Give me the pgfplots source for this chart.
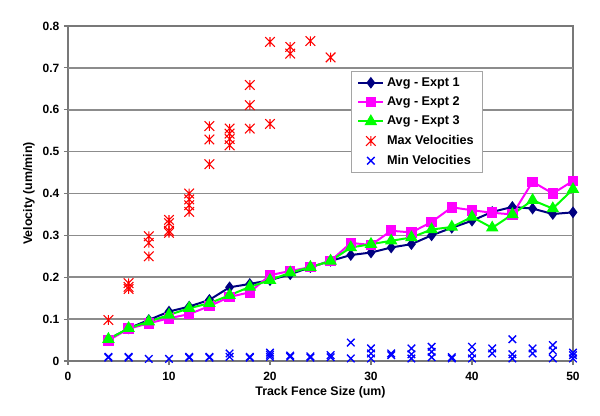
\documentclass[border=0pt]{standalone}
\usepackage{pgfplots}
\pgfplotsset{compat=1.18}
\usepackage{fontspec}
\setmainfont{Liberation Sans}
\definecolor{navyc}{RGB}{0,0,128}
\definecolor{magc}{RGB}{255,0,255}
\definecolor{greenc}{RGB}{0,255,0}
\definecolor{redc}{RGB}{255,0,0}
\definecolor{bluec}{RGB}{0,0,255}
\definecolor{gridc}{RGB}{140,140,140}
\definecolor{legc}{RGB}{165,165,165}
\definecolor{axc}{RGB}{120,120,120}
\pgfdeclareplotmark{xast}{%
 \pgfpathmoveto{\pgfqpoint{-\pgfplotmarksize}{-\pgfplotmarksize}}%
 \pgfpathlineto{\pgfqpoint{\pgfplotmarksize}{\pgfplotmarksize}}%
 \pgfpathmoveto{\pgfqpoint{-\pgfplotmarksize}{\pgfplotmarksize}}%
 \pgfpathlineto{\pgfqpoint{\pgfplotmarksize}{-\pgfplotmarksize}}%
 \pgfpathmoveto{\pgfqpoint{0pt}{-\pgfplotmarksize}}%
 \pgfpathlineto{\pgfqpoint{0pt}{\pgfplotmarksize}}%
 \pgfusepathqstroke}
\begin{document}
\begin{tikzpicture}
\path[use as bounding box] (-51pt,-41.25pt) rectangle (399pt,270.75pt);
\begin{axis}[
 at={(0,0)}, anchor=south west,
 scale only axis, width=378.75pt, height=251.25pt,
 xmin=0, xmax=50, ymin=0, ymax=0.8,
 axis lines=box,
 xtick={0,10,20,30,40,50},
 ytick={0,0.1,0.2,0.3,0.4,0.5,0.6,0.7,0.8},
 yticklabels={0,0.1,0.2,0.3,0.4,0.5,0.6,0.7,0.8},
 /pgf/number format/assume math mode=true,
 ticklabel style={font=\bfseries\fontsize{9}{10}\selectfont},
 xticklabel style={yshift=-2pt},
 ymajorgrids=true,
 y grid style={draw=gridc, line width=1.2pt},
 axis line style={draw=axc, line width=1pt},
 every tick/.style={draw=axc, line width=0.8pt}, tick align=outside, major tick length=3pt,
 xtick pos=bottom, ytick pos=left,
 xlabel={Track Fence Size (um)}, ylabel={Velocity (um/min)},
 every axis x label/.style={at={(axis description cs:0.5,0)}, yshift=-23.5pt, anchor=center,
   font=\bfseries\fontsize{9.3}{11}\selectfont},
 every axis y label/.style={at={(axis description cs:0,0.5)}, xshift=-29.25pt, rotate=90, anchor=center,
   font=\bfseries\fontsize{9.3}{11}\selectfont},
 legend style={at={(0.56,0.866)}, anchor=north west, draw=legc, line width=0.8pt, fill=white,
   font=\bfseries\fontsize{9.5}{11}\selectfont, row sep=2.4pt, inner ysep=2.5pt, inner xsep=4.5pt},
 legend cell align=left,
 legend image code/.code={\draw[mark repeat=2,mark phase=2] plot coordinates {(0cm,0cm) (0.33cm,0cm) (0.66cm,0cm)};},
]
% horizontal gridlines as data lines
\addplot[gridc, line width=1.2pt, forget plot] coordinates {(0,0.1)(50,0.1)};
\addplot[gridc, line width=1.2pt, forget plot] coordinates {(0,0.2)(50,0.2)};
\addplot[gridc, line width=1.2pt, forget plot] coordinates {(0,0.3)(50,0.3)};
\addplot[gridc, line width=1.2pt, forget plot] coordinates {(0,0.4)(50,0.4)};
\addplot[gridc, line width=1.2pt, forget plot] coordinates {(0,0.5)(50,0.5)};
\addplot[gridc, line width=1.2pt, forget plot] coordinates {(0,0.6)(50,0.6)};
\addplot[gridc, line width=1.2pt, forget plot] coordinates {(0,0.7)(50,0.7)};
\addplot[navyc, line width=1.5pt, mark=diamond*, mark size=3.2pt, mark options={solid, fill=navyc}] coordinates {
(4,0.052)(6,0.078)(8,0.098)(10,0.118)(12,0.130)(14,0.146)(16,0.176)(18,0.184)(20,0.193)(22,0.207)(24,0.224)(26,0.239)(28,0.253)(30,0.259)(32,0.271)(34,0.279)(36,0.300)(38,0.318)(40,0.335)(42,0.356)(44,0.368)(46,0.364)(48,0.351)(50,0.355)};
\addlegendentry{Avg - Expt 1}
\addplot[magc, line width=1.5pt, mark=square*, mark size=3.2pt, mark options={solid, fill=magc}] coordinates {
(4,0.049)(6,0.077)(8,0.090)(10,0.102)(12,0.112)(14,0.131)(16,0.153)(18,0.164)(20,0.205)(22,0.215)(24,0.224)(26,0.239)(28,0.282)(30,0.277)(32,0.311)(34,0.307)(36,0.332)(38,0.367)(40,0.360)(42,0.354)(44,0.350)(46,0.428)(48,0.400)(50,0.430)};
\addlegendentry{Avg - Expt 2}
\addplot[greenc, line width=1.5pt, mark=triangle*, mark size=4pt, mark options={solid, fill=greenc}] coordinates {
(4,0.052)(6,0.078)(8,0.094)(10,0.110)(12,0.126)(14,0.138)(16,0.157)(18,0.177)(20,0.193)(22,0.211)(24,0.224)(26,0.239)(28,0.271)(30,0.279)(32,0.287)(34,0.295)(36,0.314)(38,0.320)(40,0.344)(42,0.318)(44,0.350)(46,0.384)(48,0.364)(50,0.410)};
\addlegendentry{Avg - Expt 3}
\addplot[redc, only marks, mark=xast, mark size=3.6pt, line width=0.8pt] coordinates {
(4,0.098)
(6,0.186)(6,0.177)(6,0.172)
(8,0.298)(8,0.282)(8,0.250)
(10,0.337)(10,0.329)(10,0.311)(10,0.306)
(12,0.400)(12,0.386)(12,0.372)(12,0.356)
(14,0.561)(14,0.529)(14,0.470)
(16,0.555)(16,0.543)(16,0.530)(16,0.515)
(18,0.659)(18,0.611)(18,0.555)
(20,0.762)(20,0.566)
(22,0.750)(22,0.734)
(24,0.764)
(26,0.725)};
\addlegendentry{Max Velocities}
\addplot[bluec, only marks, mark=x, mark size=4pt, line width=1pt] coordinates {
(4,0.008)(4,0.010)
(6,0.008)(6,0.010)
(8,0.005)
(10,0.005)
(12,0.008)(12,0.010)
(14,0.008)(14,0.010)
(16,0.018)(16,0.010)
(18,0.008)(18,0.010)
(20,0.020)(20,0.015)(20,0.010)
(22,0.010)(22,0.013)
(24,0.008)(24,0.011)
(26,0.014)(26,0.009)
(28,0.044)(28,0.006)
(30,0.030)(30,0.018)(30,0.006)
(32,0.018)(32,0.014)
(34,0.030)(34,0.016)(34,0.006)
(36,0.034)(36,0.022)(36,0.009)
(38,0.009)(38,0.006)
(40,0.034)(40,0.018)(40,0.006)
(42,0.030)(42,0.018)
(44,0.052)(44,0.016)(44,0.006)
(46,0.030)(46,0.018)
(48,0.038)(48,0.025)(48,0.006)
(50,0.020)(50,0.014)(50,0.006)};
\addlegendentry{Min Velocities}
\end{axis}
\end{tikzpicture}
\end{document}
